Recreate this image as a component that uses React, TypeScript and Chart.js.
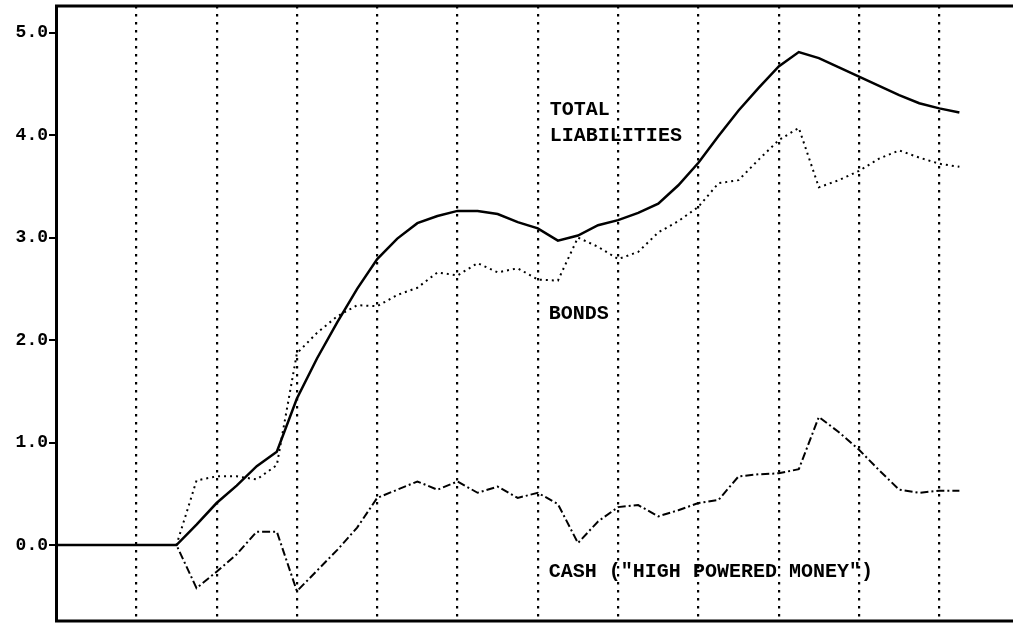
import React, { useEffect, useRef } from "react";
import { Chart, registerables } from "chart.js";

Chart.register(...registerables);

// Values (one point per period, 46 periods)
const totalLiabilities: number[] = [
  0, 0, 0, 0, 0, 0, 0,
  0.2, 0.41, 0.58, 0.77, 0.91, 1.43, 1.82, 2.17, 2.5, 2.79, 2.99, 3.14, 3.21,
  3.26, 3.26, 3.23, 3.15, 3.09, 2.97, 3.02, 3.12, 3.17, 3.24, 3.33, 3.51, 3.73,
  3.99, 4.24, 4.46, 4.67, 4.81, 4.75, 4.66, 4.57, 4.48, 4.39, 4.31, 4.26, 4.22,
];

const bonds: number[] = [
  0, 0, 0, 0, 0, 0, 0,
  0.63, 0.67, 0.67, 0.64, 0.78, 1.87, 2.07, 2.23, 2.34, 2.33, 2.44, 2.51, 2.66,
  2.63, 2.75, 2.66, 2.7, 2.59, 2.58, 3.0, 2.91, 2.79, 2.86, 3.05, 3.16, 3.3,
  3.53, 3.56, 3.76, 3.95, 4.07, 3.49, 3.56, 3.65, 3.77, 3.85, 3.78, 3.72, 3.69,
];

const cash: number[] = [
  0, 0, 0, 0, 0, 0, 0,
  -0.42, -0.26, -0.09, 0.13, 0.13, -0.45, -0.25, -0.05, 0.17, 0.46, 0.54, 0.62, 0.54,
  0.62, 0.51, 0.57, 0.46, 0.51, 0.4, 0.02, 0.23, 0.37, 0.39, 0.28, 0.34, 0.41,
  0.44, 0.67, 0.69, 0.7, 0.74, 1.25, 1.1, 0.93, 0.73, 0.54, 0.51, 0.53, 0.53,
];

const periods: number[] = totalLiabilities.map((_, i) => i);

const yTickValues: number[] = [0, 1, 2, 3, 4, 5];
const xGridValues: number[] = [4, 8, 12, 16, 20, 24, 28, 32, 36, 40, 44];

const annotations = [
  { text: "TOTAL", x: 24.6, y: 4.24 },
  { text: "LIABILITIES", x: 24.6, y: 3.99 },
  { text: "BONDS", x: 24.55, y: 2.25 },
  { text: 'CASH ("HIGH POWERED MONEY")', x: 24.55, y: -0.26 },
];

const toPoints = (vals: number[]) => vals.map((v, i) => ({ x: periods[i], y: v }));

const framePlugin = {
  id: "frameAndNotes",
  afterDraw(chart: any) {
    const { ctx, chartArea: a, scales } = chart;
    ctx.save();
    ctx.strokeStyle = "#000";
    ctx.lineWidth = 3;
    ctx.setLineDash([]);
    ctx.beginPath();
    ctx.moveTo(a.left, a.top);
    ctx.lineTo(chart.width, a.top);
    ctx.moveTo(a.left, a.bottom);
    ctx.lineTo(chart.width, a.bottom);
    ctx.moveTo(a.left + 0.5, a.top - 1.5);
    ctx.lineTo(a.left + 0.5, a.bottom + 1.5);
    ctx.stroke();

    ctx.fillStyle = "#000";
    ctx.font = 'bold 20px "Liberation Mono", monospace';
    ctx.textBaseline = "middle";
    ctx.textAlign = "left";
    for (const n of annotations) {
      ctx.fillText(n.text, scales.x.getPixelForValue(n.x), scales.y.getPixelForValue(n.y));
    }
    ctx.restore();
  },
};

export default function App() {
  const ref = useRef<HTMLCanvasElement | null>(null);

  useEffect(() => {
    if (!ref.current) return;
    const chart = new Chart(ref.current, {
      type: "line",
      data: {
        datasets: [
          {
            label: "Total liabilities",
            data: toPoints(totalLiabilities),
            borderColor: "#000",
            borderWidth: 2.5,
            pointRadius: 0,
            tension: 0,
            fill: false,
          },
          {
            label: "Bonds",
            data: toPoints(bonds),
            borderColor: "#000",
            borderWidth: 2,
            borderDash: [2, 4],
            pointRadius: 0,
            tension: 0,
            fill: false,
          },
          {
            label: "Cash",
            data: toPoints(cash),
            borderColor: "#000",
            borderWidth: 2,
            borderDash: [8, 3, 2, 3],
            pointRadius: 0,
            tension: 0,
            fill: false,
          },
        ],
      },
      options: {
        animation: false,
        responsive: false,
        devicePixelRatio: 1,
        layout: { padding: { top: 6, right: 0, bottom: 0, left: 0 } },
        plugins: {
          legend: { display: false },
          tooltip: { enabled: false },
        },
        scales: {
          x: {
            type: "linear",
            min: 0,
            max: 47.67,
            afterBuildTicks: (scale: any) => {
              scale.ticks = xGridValues.map((v) => ({ value: v }));
            },
            afterFit: (scale: any) => {
              scale.height = 6;
              scale.paddingLeft = 0;
              scale.paddingRight = 0;
            },
            ticks: { display: false },
            grid: {
              display: true,
              drawOnChartArea: true,
              drawTicks: false,
              color: "#000",
              lineWidth: 2.2,
            },
            border: { display: false, dash: [2.5, 5.5] },
          },
          y: {
            type: "linear",
            min: -0.741,
            max: 5.259,
            afterBuildTicks: (scale: any) => {
              scale.ticks = yTickValues.map((v) => ({ value: v }));
            },
            afterFit: (scale: any) => {
              scale.width = 56;
              scale.paddingTop = 0;
              scale.paddingBottom = 0;
            },
            ticks: {
              padding: 1,
              color: "#000",
              font: { family: '"Liberation Mono", monospace', size: 18, weight: "bold" },
              callback: (v: any) => Number(v).toFixed(1),
            },
            grid: {
              display: true,
              drawOnChartArea: false,
              drawTicks: true,
              tickLength: 7,
              color: "#000",
              lineWidth: 2,
            },
            border: { display: false },
          },
        },
      },
      plugins: [framePlugin],
    });
    return () => chart.destroy();
  }, []);

  return (
    <div style={{ position: "absolute", left: 0, top: 0, width: 1013, height: 627, background: "#fff" }}>
      <canvas ref={ref} width={1013} height={627} style={{ display: "block" }} />
    </div>
  );
}
